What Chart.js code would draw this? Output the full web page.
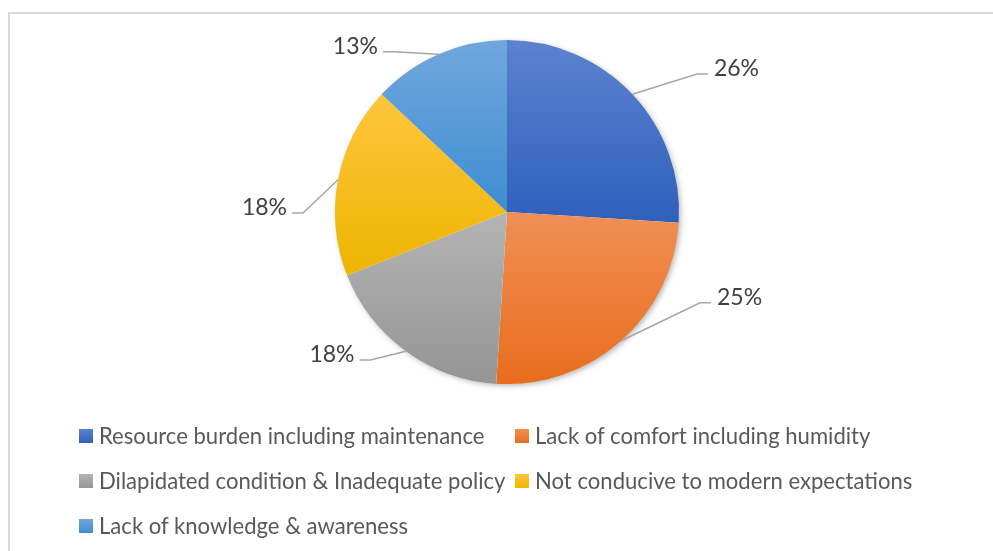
<!DOCTYPE html>
<html>
<head>
<meta charset="utf-8">
<script src="https://cdn.jsdelivr.net/npm/chart.js@4.4.1/dist/chart.umd.min.js"></script>
<style>
  body { margin: 0; background: #fff; }
  #wrap { position: relative; width: 993px; height: 551px; overflow: hidden; }
  #frame { position: absolute; left: 8px; top: 12px; width: 1020px; height: 580px; border: 2px solid #d9d9d9; box-sizing: border-box; }
  #grafico { position: absolute; left: 0; top: 0; }
  #legenda { position: absolute; left: 79px; top: 413px; display: grid; grid-template-columns: 436px 436px; font-family: Lato, sans-serif; font-size: 22.1px; color: #595959; }
  .item { height: 45px; display: flex; align-items: center; white-space: nowrap; }
  .quadrado { width: 14px; height: 14px; margin-right: 6px; flex: none; }
</style>
</head>
<body>
<div id="wrap">
  <div id="frame"></div>
  <canvas id="grafico" width="993" height="551"></canvas>
  <div id="legenda"></div>
</div>
<script>
// dados
const categorias = [
  'Resource burden including maintenance',
  'Lack of comfort including humidity',
  'Dilapidated condition & Inadequate policy',
  'Not conducive to modern expectations',
  'Lack of knowledge & awareness'
]
const percentuais = [26, 25, 18, 18, 13]

// cores (topo claro -> base escura, como o gradiente do Excel)
const coresTopo = ['#5c82cf', '#f18f55', '#b4b4b4', '#fec63e', '#70a7dd']
const coresBase = ['#2e60bc', '#e86d1d', '#959595', '#eeb400', '#3f8dd2']

// ajuste das linhas de chamada (desvio do ângulo em graus, distância relativa ao raio)
const desvioRotulo = [7.2, -23.4, 6.7, -11.1, -11.8]
const distRotulo = [1.365, 1.24, 1.17, 1.186, 1.14]

const total = percentuais.reduce((a, b) => a + b, 0)

// gradiente vertical por fatia, calculado pela caixa da fatia
function gradienteFatia(context) {
  const chart = context.chart
  const area = chart.chartArea
  const i = context.dataIndex
  if (!area) return coresBase[i]
  const cx = (area.left + area.right) / 2
  const cy = (area.top + area.bottom) / 2
  const r = Math.min(area.width, area.height) / 2
  let acumulado = 0
  for (let k = 0; k < i; k++) acumulado += percentuais[k]
  const a0 = -Math.PI / 2 + (acumulado / total) * Math.PI * 2
  const a1 = a0 + (percentuais[i] / total) * Math.PI * 2
  const ys = [cy, cy + r * Math.sin(a0), cy + r * Math.sin(a1)]
  for (const extremo of [-Math.PI / 2, Math.PI / 2, Math.PI * 1.5, Math.PI * 2.5]) {
    if (extremo >= a0 && extremo <= a1) ys.push(cy + r * Math.sin(extremo))
  }
  const topo = Math.min(...ys)
  const base = Math.max(...ys)
  const g = chart.ctx.createLinearGradient(0, topo, 0, base)
  g.addColorStop(0, coresTopo[i])
  g.addColorStop(1, coresBase[i])
  return g
}

// sombra leve atrás da pizza
const sombraPizza = {
  id: 'sombraPizza',
  beforeDatasetsDraw(chart) {
    const arco = chart.getDatasetMeta(0).data[0]
    if (!arco) return
    const ctx = chart.ctx
    ctx.save()
    ctx.shadowColor = 'rgba(0,0,0,0.35)'
    ctx.shadowBlur = 6
    ctx.shadowOffsetX = 2
    ctx.shadowOffsetY = 2
    ctx.fillStyle = '#ffffff'
    ctx.beginPath()
    ctx.arc(arco.x, arco.y, arco.outerRadius - 1, 0, Math.PI * 2)
    ctx.fill()
    ctx.restore()
  }
}

// rótulos com linha de chamada
const rotulosFora = {
  id: 'rotulosFora',
  afterDatasetsDraw(chart) {
    const ctx = chart.ctx
    const arcos = chart.getDatasetMeta(0).data
    ctx.save()
    ctx.font = '23px Lato, sans-serif'
    ctx.textBaseline = 'middle'
    arcos.forEach((arco, i) => {
      const meio = (arco.startAngle + arco.endAngle) / 2
      const r = arco.outerRadius
      const x0 = arco.x + r * Math.cos(meio)
      const y0 = arco.y + r * Math.sin(meio)
      const ang = meio + desvioRotulo[i] * Math.PI / 180
      const x1 = arco.x + r * distRotulo[i] * Math.cos(ang)
      const y1 = arco.y + r * distRotulo[i] * Math.sin(ang)
      const direita = x1 > arco.x
      const x2 = x1 + (direita ? 11 : -11)

      ctx.strokeStyle = '#a6a6a6'
      ctx.lineWidth = 1.5
      ctx.beginPath()
      ctx.moveTo(x0, y0)
      ctx.lineTo(x1, y1)
      ctx.lineTo(x2, y1)
      ctx.stroke()

      ctx.fillStyle = '#404040'
      ctx.textAlign = direita ? 'left' : 'right'
      ctx.fillText(percentuais[i] + '%', x2 + (direita ? 6 : -5), y1 - 5)
    })
    ctx.restore()
  }
}

new Chart(document.getElementById('grafico'), {
  type: 'pie',
  data: {
    labels: categorias,
    datasets: [{
      data: percentuais,
      backgroundColor: gradienteFatia,
      borderWidth: 0,
      hoverOffset: 0
    }]
  },
  options: {
    responsive: false,
    animation: false,
    layout: { padding: { top: 40, bottom: 167, left: 100, right: 79 } },
    plugins: {
      legend: { display: false },
      tooltip: { enabled: false }
    }
  },
  plugins: [sombraPizza, rotulosFora]
})

// legenda em duas colunas, no estilo do Excel
const legenda = document.getElementById('legenda')
categorias.forEach((nome, i) => {
  const item = document.createElement('div')
  item.className = 'item'
  const quadrado = document.createElement('span')
  quadrado.className = 'quadrado'
  quadrado.style.background = `linear-gradient(${coresTopo[i]}, ${coresBase[i]})`
  const texto = document.createElement('span')
  texto.textContent = nome
  item.appendChild(quadrado)
  item.appendChild(texto)
  legenda.appendChild(item)
})
</script>
</body>
</html>
